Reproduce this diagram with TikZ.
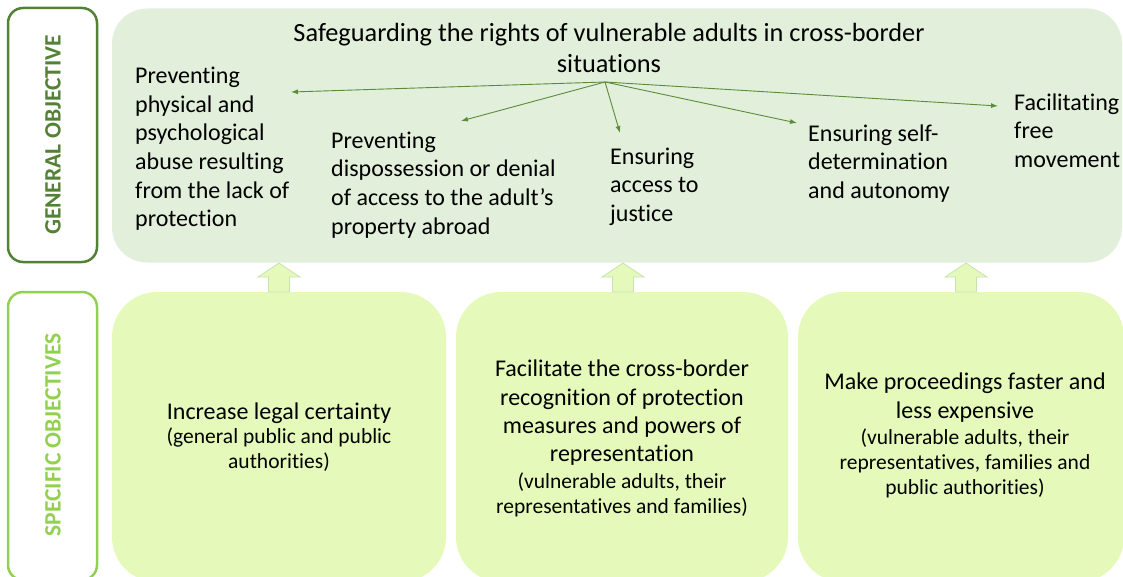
\documentclass[tikz,border=0pt]{standalone}
\usepackage{fontspec}
\setmainfont{Carlito}[Ligatures=NoCommon,RawFeature=-liga,RawFeature=-clig,RawFeature=-calt,RawFeature=-dlig]
\usetikzlibrary{arrows.meta}
\definecolor{dkgreen}{HTML}{538135}
\definecolor{ltgreen}{HTML}{92D050}
\definecolor{genfill}{HTML}{E2EFDA}
\definecolor{specfill}{HTML}{E5FABA}
\definecolor{arrline}{HTML}{C8E2B4}
\definecolor{conn}{HTML}{5B8C3A}
\tikzset{
  labelbox/.style={draw, rounded corners=15pt, line width=2.5pt, minimum width=89pt, inner sep=0pt},
  labeltext/.style={rotate=90, font=\fontsize{23.5}{28}\selectfont\bfseries, inner sep=0pt},
  genbox/.style={fill=genfill, rounded corners=35pt, minimum width=1010pt, minimum height=254pt, inner sep=0pt},
  specbox/.style={fill=specfill, rounded corners=45pt, minimum height=290pt, inner sep=0pt},
  gtext/.style={font=\fontsize{24}{28.6}\selectfont, inner sep=0pt, align=left, anchor=north west},
  titletext/.style={font=\fontsize{26.3}{31}\selectfont, inner sep=0pt, align=center, anchor=north},
  maintext/.style={font=\fontsize{24}{28.3}\selectfont, inner sep=0pt, align=center, anchor=north},
  subtext/.style={font=\fontsize{21.5}{25}\selectfont, inner sep=0pt, align=center, anchor=north},
  conn/.style={draw=conn, line width=0.9pt, -{Latex[length=7pt,width=5pt]}},
  uparrow/.style={fill=specfill, draw=arrline, line width=0.8pt}
}
\begin{document}
\begin{tikzpicture}[x=1pt,y=-1pt]
\useasboundingbox (0,0) rectangle (1123,577);
\clip (0,0) rectangle (1123,577);

% label boxes
\node[labelbox, draw=dkgreen, minimum height=254pt] (lgen) at (52.5,135) {};
\node[labeltext, text=dkgreen] (lgentxt) at (53,135) {GENERAL OBJECTIVE};
\node[labelbox, draw=ltgreen, minimum height=288pt] (lspec) at (52.5,436) {};
\node[labeltext, text=ltgreen] (lspectxt) at (53,435) {SPECIFIC OBJECTIVES};

% general objective box
\node[genbox] (gen) at (617,135.5) {};

% specific boxes
\node[specbox, minimum width=334pt] (sa) at (279,437) {};
\node[specbox, minimum width=332pt] (sb) at (622,437) {};
\node[specbox, minimum width=326pt] (sc) at (961,437) {};

% up arrows
\foreach \x/\n in {279/ua,623/ub,966/uc}{
  \draw[uparrow] (\x-10.5,292) -- (\x-10.5,277) -- (\x-21,277) -- (\x,263) -- (\x+21,277) -- (\x+10.5,277) -- (\x+10.5,292) -- cycle;
}

% title
\node[titletext] (title) at (609,23) {Safeguarding the rights of vulnerable adults in cross-border\\situations};

% general texts
\node[gtext] (g1) at (135,67) {Preventing\\physical and\\psychological\\abuse resulting\\from the lack of\\protection};
\node[gtext] (g2) at (331,131.5) {Preventing\\dispossession or denial\\of access to the adult’s\\property abroad};
\node[gtext] (g3) at (610,147.5) {Ensuring\\access to\\justice};
\node[gtext] (g4) at (808,124.5) {Ensuring self-\\determination\\and autonomy};
\node[gtext] (g5) at (1014,93.5) {Facilitating\\free\\movement};

% connectors
\coordinate (src) at (605,82);
\coordinate (t1) at (291,92);
\coordinate (t2) at (461,121);
\coordinate (t3) at (620,133);
\coordinate (t4) at (797,123);
\coordinate (t5) at (998,106);
\draw[conn] (src) -- (t1);
\draw[conn] (src) -- (t2);
\draw[conn] (src) -- (t3);
\draw[conn] (src) -- (t4);
\draw[conn] (src) -- (t5);

% specific texts
\node[maintext] (sat) at (279,402.5) {Increase legal certainty};
\node[subtext] (sas) at (279,428) {(general public and public\\authorities)};
\node[maintext] (sbt) at (622,360) {Facilitate the cross-border\\recognition of protection\\measures and powers of\\representation};
\node[subtext] (sbs) at (622,473) {(vulnerable adults, their\\representatives and families)};
\node[maintext] (sct) at (965,373) {Make proceedings faster and\\less expensive};
\node[subtext] (scs) at (965,429) {(vulnerable adults, their\\representatives, families and\\public authorities)};
\end{tikzpicture}
\end{document}
